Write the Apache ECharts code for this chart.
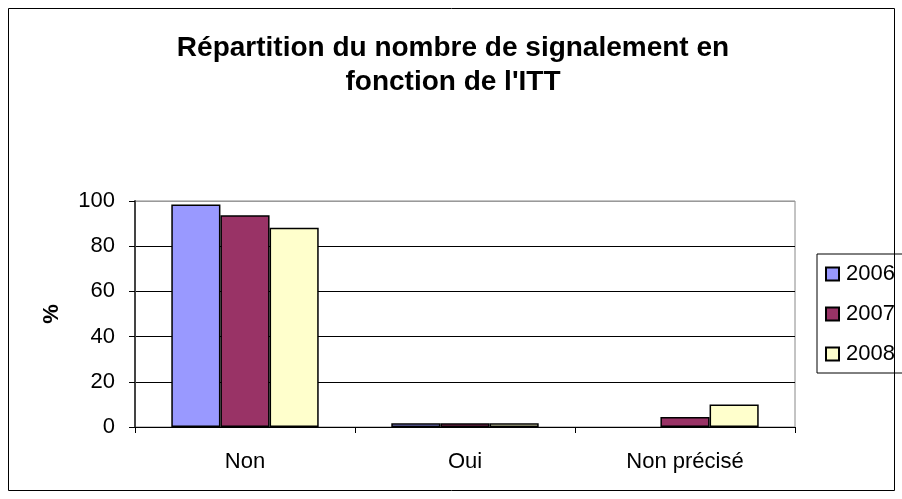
<!DOCTYPE html>
<html>
<head>
<meta charset="utf-8">
<script src="https://cdn.jsdelivr.net/npm/echarts@6/dist/echarts.min.js"></script>
<style>
html,body{margin:0;padding:0;background:#fff;}
#chart{width:902px;height:499px;}
</style>
</head>
<body>
<div id="chart"></div>
<script>
var myChart = echarts.init(document.getElementById("chart"));

var categories = ['Non', 'Oui', 'Non précisé'];
var years = ['2006', '2007', '2008'];
var v2006 = [98.4, 1.7, 0];
var v2007 = [93.7, 1.7, 4.4];
var v2008 = [88.2, 1.7, 10.0];
var colors = ['#9999ff', '#993366', '#ffffcc'];
var yTicks = [0, 20, 40, 60, 80, 100];

var font = 'Liberation Sans, Arial, sans-serif';
var values = [v2006, v2007, v2008];

option = {
    backgroundColor: '#fff',
    animation: false,
    title: {
        text: "Répartition du nombre de signalement en\nfonction de l'ITT",
        left: 448,
        textAlign: 'center',
        top: 26,
        textStyle: {
            fontFamily: font,
            fontSize: 28,
            fontWeight: 'bold',
            color: '#000',
            lineHeight: 34
        }
    },
    legend: {
        data: years,
        orient: 'vertical',
        icon: 'rect',
        left: 817,
        top: 254,
        padding: [9, 10, 8, 8],
        itemGap: 18,
        itemWidth: 13,
        itemHeight: 13,
        borderColor: '#000',
        borderWidth: 1,
        textStyle: {fontFamily: font, fontSize: 22, color: '#000', padding: [0, 0, 0, 2]}
    },
    grid: {
        left: 135,
        right: 107,
        top: 201,
        bottom: 72,
        show: true,
        borderColor: '#888',
        borderWidth: 1,
        backgroundColor: '#fff'
    },
    xAxis: {
        type: 'category',
        data: categories,
        axisLine: {lineStyle: {color: '#000', width: 1}},
        axisTick: {show: true, length: 6, lineStyle: {color: '#000'}},
        axisLabel: {fontFamily: font, fontSize: 22, color: '#000', margin: 24}
    },
    yAxis: {
        type: 'value',
        min: yTicks[0],
        max: yTicks[yTicks.length - 1],
        interval: 20,
        name: '%',
        nameLocation: 'middle',
        nameGap: 72,
        nameMoveOverlap: false,
        nameTextStyle: {fontFamily: font, fontSize: 22, fontWeight: 'bold', color: '#000'},
        axisLine: {show: true, lineStyle: {color: '#444', width: 2}},
        axisTick: {show: true, length: 6, lineStyle: {color: '#000'}},
        axisLabel: {fontFamily: font, fontSize: 22, color: '#000', margin: 20},
        splitLine: {lineStyle: {color: ['#000', '#000', '#000', '#000', '#000', '#999'], width: 1}}
    },
    graphic: [{
        type: 'rect',
        shape: {x: 8.5, y: 8.5, width: 886, height: 482},
        style: {fill: 'none', stroke: '#000', lineWidth: 1},
        silent: true,
        z: -1
    }],
    series: []
};

for (var j = 0; j < years.length; j++) {
    option.series.push({
        name: years[j],
        type: 'bar',
        barGap: '0%',
        barCategoryGap: '33%',
        itemStyle: {color: colors[j], borderColor: '#000', borderWidth: 1.5},
        // a zero value has no bar in the original
        data: values[j].map(function (v) { return v === 0 ? '-' : v; })
    });
}

myChart.setOption(option);
</script>
</body>
</html>
